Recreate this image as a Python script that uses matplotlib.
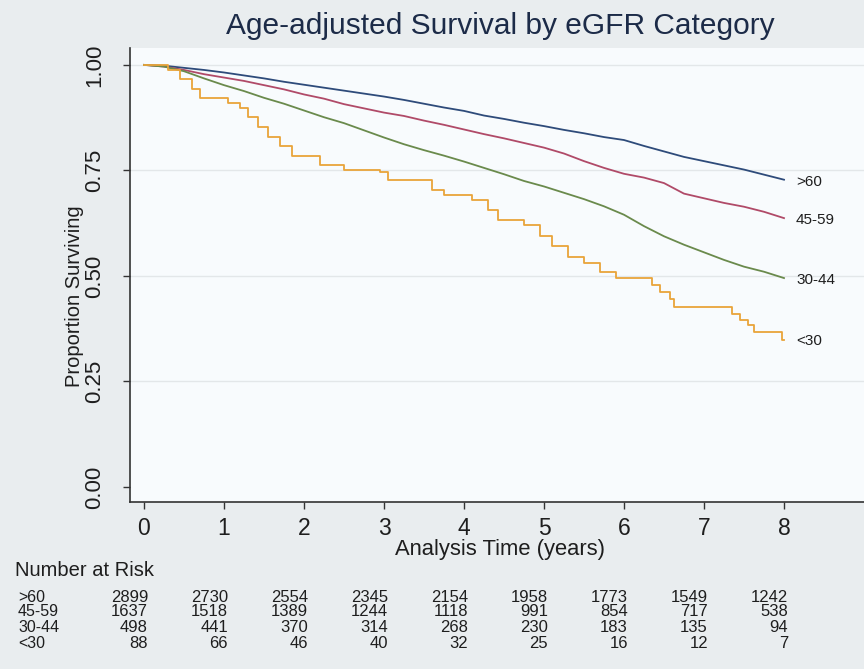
import matplotlib
matplotlib.use("Agg")
import matplotlib.pyplot as plt
import matplotlib.transforms as mtransforms
from matplotlib import font_manager

# ---- data -------------------------------------------------------------
groups = [">60", "45-59", "30-44", "<30"]

# survival estimates on a quarter-year grid (0 .. 8 years)
grid_times = [i * 0.25 for i in range(33)]
surv_gt60 = [1.000, 0.998, 0.993, 0.988, 0.982, 0.975, 0.968, 0.960, 0.953,
             0.946, 0.939, 0.932, 0.925, 0.917, 0.908, 0.899, 0.891, 0.880,
             0.872, 0.863, 0.855, 0.846, 0.838, 0.829, 0.822, 0.808, 0.795,
             0.782, 0.772, 0.762, 0.752, 0.740, 0.728]
surv_45_59 = [1.000, 0.996, 0.988, 0.978, 0.970, 0.962, 0.952, 0.942, 0.930,
              0.920, 0.907, 0.897, 0.887, 0.879, 0.868, 0.858, 0.847, 0.836,
              0.826, 0.815, 0.804, 0.790, 0.772, 0.756, 0.742, 0.733, 0.720,
              0.695, 0.684, 0.673, 0.664, 0.652, 0.637]
surv_30_44 = [1.000, 0.996, 0.985, 0.968, 0.952, 0.938, 0.922, 0.908, 0.892,
              0.876, 0.862, 0.845, 0.828, 0.812, 0.798, 0.785, 0.771, 0.756,
              0.741, 0.725, 0.712, 0.697, 0.682, 0.665, 0.645, 0.618, 0.594,
              0.574, 0.556, 0.538, 0.522, 0.510, 0.495]

# the smallest group has few events: explicit step times
lt30_times = [0, 0.30, 0.45, 0.60, 0.70, 1.05, 1.20, 1.30, 1.42, 1.55, 1.70,
              1.85, 2.20, 2.50, 2.95, 3.05, 3.60, 3.75, 4.10, 4.30, 4.42,
              4.75, 4.95, 5.10, 5.30, 5.50, 5.70, 5.90, 6.35, 6.45, 6.58,
              6.63, 7.35, 7.45, 7.55, 7.62, 7.97, 8.0]
lt30_surv = [1.000, 0.989, 0.966, 0.943, 0.921, 0.910, 0.899, 0.876, 0.853,
             0.830, 0.807, 0.785, 0.763, 0.751, 0.746, 0.727, 0.704, 0.692,
             0.680, 0.656, 0.633, 0.620, 0.595, 0.570, 0.545, 0.531, 0.510,
             0.495, 0.478, 0.463, 0.445, 0.427, 0.410, 0.396, 0.383, 0.367,
             0.348, 0.348]

risk_times = list(range(9))
risk_gt60 = [2899, 2730, 2554, 2345, 2154, 1958, 1773, 1549, 1242]
risk_45_59 = [1637, 1518, 1389, 1244, 1118, 991, 854, 717, 538]
risk_30_44 = [498, 441, 370, 314, 268, 230, 183, 135, 94]
risk_lt30 = [88, 66, 46, 40, 32, 25, 16, 12, 7]

x_ticks = list(range(9))
y_ticks = [0.0, 0.25, 0.5, 0.75, 1.0]
y_ticklabels = ["0.00", "0.25", "0.50", "0.75", "1.00"]

# ---- style ------------------------------------------------------------
names = {f.name for f in font_manager.fontManager.ttflist}
fam = [n for n in ["Liberation Sans Narrow", "Liberation Sans", "DejaVu Sans"] if n in names]
plt.rcParams["font.family"] = fam

colors = ["#2e4b7a", "#b04a68", "#6a8a4c", "#e9a43a"]
fig_bg = "#e9edef"
ax_bg = "#f8fbfd"
text_dark = "#1e1e1e"

fig = plt.figure(figsize=(8.64, 6.69), dpi=100, facecolor=fig_bg)
ax = fig.add_axes([130 / 864, 1 - 502 / 669, 1 - 130 / 864, (502 - 48) / 669])
ax.set_facecolor(ax_bg)

ax.set_xlim(-0.175, 9.0)
ax.set_ylim(-0.0355, 1.040)

for yv in y_ticks[1:]:
    ax.axhline(yv, color="#e3e7e9", lw=1.0, zorder=0)

# large groups: many small steps, drawn as a continuous trace
for s, c in zip([surv_gt60, surv_45_59, surv_30_44], colors[:3]):
    ax.plot(grid_times, s, color=c, lw=1.3, zorder=3)
# smallest group: step function
ax.plot(lt30_times, lt30_surv, drawstyle="steps-post", color=colors[3],
        lw=1.3, zorder=3)

# group labels at the end of each curve
label_y = [0.728, 0.637, 0.495, 0.352]
for g, yv in zip(groups, label_y):
    ax.text(8.15, yv - 0.005, g, fontsize=11, color=text_dark, va="center", ha="left")

for side in ["top", "right"]:
    ax.spines[side].set_visible(False)
for side in ["left", "bottom"]:
    ax.spines[side].set_color("#333333")
    ax.spines[side].set_linewidth(1.2)

ax.set_xticks(x_ticks)
ax.set_xticklabels([str(v) for v in x_ticks])
ax.set_yticks(y_ticks)
ax.set_yticklabels(y_ticklabels)
ax.tick_params(axis="x", length=5, width=1, colors="#333333", labelsize=16.5,
               pad=6, labelcolor=text_dark)
ax.tick_params(axis="y", length=5, width=1, colors="#333333", labelsize=16,
               pad=13, labelcolor=text_dark)
for lab in ax.get_yticklabels():
    lab.set_rotation(90)
    lab.set_va("center")
    lab.set_ha("right")

fig.text(75 / 864, 1 - 296 / 669, "Proportion Surviving", rotation=90,
         fontsize=14.5, color=text_dark, ha="center", va="center")
fig.text(500 / 864, 1 - 549 / 669, "Analysis Time (years)",
         fontsize=15.8, color=text_dark, ha="center", va="center")

fig.text(500 / 864, 1 - 26 / 669, "Age-adjusted Survival by eGFR Category",
         fontsize=21.5, color="#1c2b48", ha="center", va="center")

# ---- number at risk table --------------------------------------------
fig.text(15 / 864, 1 - 570 / 669, "Number at Risk", fontsize=14.5,
         color=text_dark, ha="left", va="center")
blend = mtransforms.blended_transform_factory(ax.transData, fig.transFigure)
row_y = [597, 612, 628, 644]
risk_rows = [risk_gt60, risk_45_59, risk_30_44, risk_lt30]
for g, yp, counts in zip(groups, row_y, risk_rows):
    yf = 1 - yp / 669
    fig.text(18 / 864, yf, g, fontsize=11.5, color=text_dark, ha="left", va="center")
    for t, n in zip(risk_times, counts):
        ax.text(t + 0.05, yf, str(n), transform=blend, fontsize=12,
                color=text_dark, ha="right", va="center", clip_on=False)

fig.savefig("out.png", dpi=100, facecolor=fig_bg)
